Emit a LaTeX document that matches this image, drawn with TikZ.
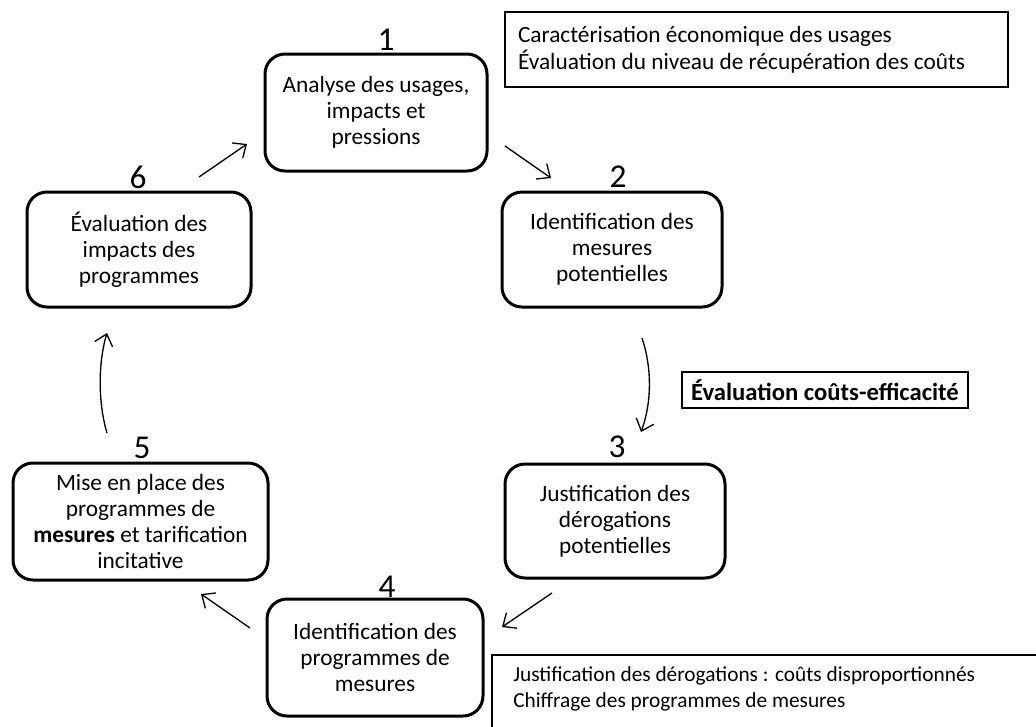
\documentclass[tikz,border=0pt]{standalone}
\usepackage{fontspec}
\setmainfont{Carlito}
\usetikzlibrary{arrows.meta,calc}
\begin{document}
\begin{tikzpicture}[x=0.75pt,y=-0.75pt,
  stepbox/.style={draw, line width=2.25pt, rounded corners=15pt, align=center,
    font=\fontsize{17.5}{19.5}\selectfont, inner sep=0pt},
  num/.style={font=\fontsize{25}{30}\selectfont, inner sep=0pt},
  note/.style={draw, line width=1pt, font=\fontsize{17.5}{20}\selectfont},
  flow/.style={line width=1pt, -{Straight Barb[length=8pt,width=14pt,line width=1pt]}}]
\useasboundingbox (0,0) rectangle (1036,726);
\clip (0,0) rectangle (1036,726);
\fill[white] (0,0) rectangle (1036,726);
% step boxes
\node[stepbox, minimum width=166.5pt, minimum height=87.75pt] (b1) at (376,112.5) {Analyse des usages,\\impacts et\\pressions};
\node[stepbox, minimum width=165pt, minimum height=86.25pt] (b2) at (612,249.5) {Identification des\\mesures\\potentielles};
\node[stepbox, minimum width=165pt, minimum height=85.5pt] (b3) at (615,521) {Justification des\\dérogations\\potentielles};
\node[stepbox, minimum width=162pt, minimum height=87.75pt] (b4) at (375,657.5) {Identification des\\programmes de\\mesures};
\node[stepbox, minimum width=191.25pt, minimum height=87.75pt] (b5) at (140.5,521.5) {Mise en place des\\programmes de\\\textbf{mesures} et tarification\\incitative};
\node[stepbox, minimum width=168pt, minimum height=86.25pt] (b6) at (139,249.5) {Évaluation des\\impacts des\\programmes};
% numbers
\node[num] (n1) at (386,40) {1};
\node[num] (n2) at (618,177) {2};
\node[num] (n3) at (617,447) {3};
\node[num] (n4) at (387,587) {4};
\node[num] (n5) at (142,448) {5};
\node[num] (n6) at (138,177) {6};
% notes
\node[note, minimum width=377.25pt, minimum height=56.25pt, text width=357.75pt, inner xsep=9.75pt, align=flush left] (t1) at (756.5,49.5) {Caractérisation économique des usages\\Évaluation du niveau de récupération des coûts};
\node[note, minimum width=214.5pt, minimum height=27pt, inner sep=0pt, font=\fontsize{18.5}{20}\selectfont\bfseries] (t2) at (825,390) {Évaluation coûts-efficacité};
\node[font=\fontsize{16}{19.5}\selectfont, anchor=north west, inner xsep=15.75pt, inner ysep=0pt, align=flush left] (t3) at (492,666) {Justification des dérogations : coûts disproportionnés\\Chiffrage des programmes de mesures};
\draw[line width=1pt] ($(t3.north west)+(0,-11)$) rectangle (1045,745);
% connectors
\coordinate (a1s) at (505,146); \coordinate (a1e) at (551,178);
\coordinate (a2s) at (642,338); \coordinate (a2e) at (641,432);
\coordinate (a3s) at (552,593); \coordinate (a3e) at (502,627);
\coordinate (a4s) at (250,628); \coordinate (a4e) at (201,594);
\coordinate (a5s) at (107,433); \coordinate (a5e) at (107,333);
\coordinate (a6s) at (199,177); \coordinate (a6e) at (247,144);
\draw[flow] (a1s) -- (a1e);
\draw[flow] (a2s) .. controls (652,368) and (652,402) .. (a2e);
\draw[flow] (a3s) -- (a3e);
\draw[flow] (a4s) -- (a4e);
\draw[flow] (a5s) .. controls (98,403) and (98,363) .. (a5e);
\draw[flow] (a6s) -- (a6e);
\end{tikzpicture}
\end{document}
